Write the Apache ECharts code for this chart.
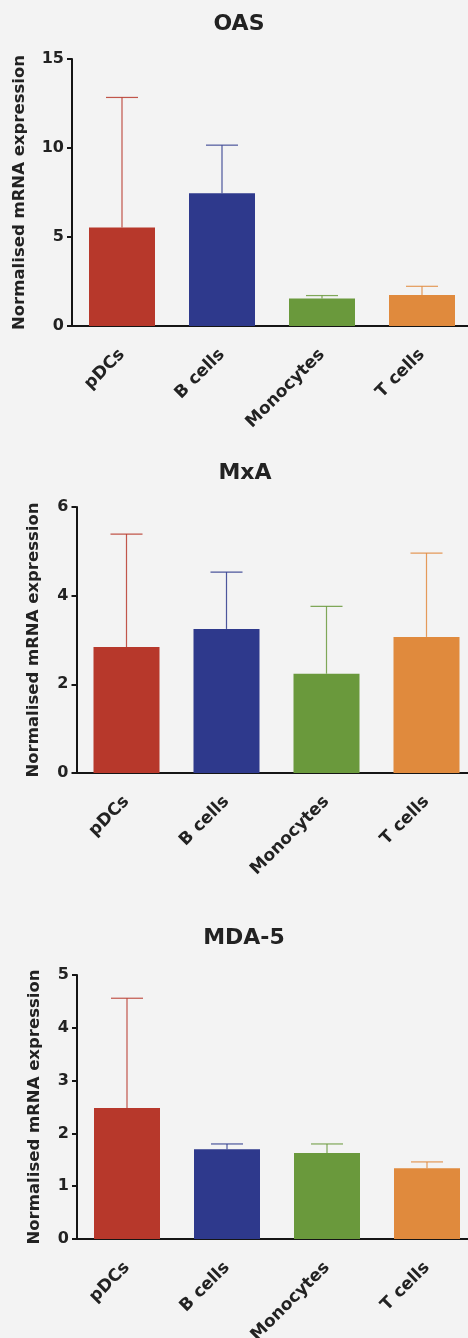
<!DOCTYPE html>
<html>
<head>
<meta charset="utf-8">
<script src="https://cdn.jsdelivr.net/npm/echarts@6/dist/echarts.min.js"></script>
<style>
html,body{margin:0;padding:0;background:#f3f3f3;}
#c{width:468px;height:1338px;}
</style>
</head>
<body>
<div id="c"></div>
<script>
const categories = ['pDCs', 'B cells', 'Monocytes', 'T cells'];
const barColors = ['#b7382b', '#2e398c', '#6a993c', '#e08a3d'];
const titles = ['OAS', 'MxA', 'MDA-5'];
const yAxisName = 'Normalised mRNA expression';

const oasMean = [5.53, 7.46, 1.54, 1.74];
const oasUpper = [12.84, 10.16, 1.71, 2.23];
const mxaMean = [2.84, 3.25, 2.24, 3.07];
const mxaUpper = [5.39, 4.53, 3.76, 4.96];
const mda5Mean = [2.48, 1.70, 1.63, 1.34];
const mda5Upper = [4.56, 1.80, 1.80, 1.46];

const yMax = [15, 6, 5];
const yInterval = [5, 2, 1];

const means = [oasMean, mxaMean, mda5Mean];
const uppers = [oasUpper, mxaUpper, mda5Upper];

const font = 'DejaVu Sans, Liberation Sans, Arial, sans-serif';
const grids = [
  {left: 72, top: 59, width: 400, height: 267},
  {left: 76.5, top: 507, width: 400, height: 266},
  {left: 77, top: 975, width: 400, height: 264}
];
const titlePos = [{x: 234, y: 19}, {x: 240, y: 468}, {x: 239, y: 933}];
const nameGaps = [44, 34, 34];

const option = {
  backgroundColor: '#f3f3f3',
  animation: false,
  title: titles.map((t, i) => ({
    text: t,
    left: titlePos[i].x,
    top: titlePos[i].y,
    textAlign: 'center',
    textVerticalAlign: 'middle',
    textStyle: {fontFamily: font, fontWeight: 'bold', fontSize: 22, color: '#222'}
  })),
  grid: grids.map(g => Object.assign({containLabel: false, outerBoundsMode: 'none'}, g)),
  xAxis: grids.map((g, i) => ({
    type: 'category',
    gridIndex: i,
    data: categories,
    axisLine: {lineStyle: {color: '#151515', width: 2}},
    axisTick: {alignWithLabel: true, length: 6, lineStyle: {color: '#151515', width: 2}},
    axisLabel: {rotate: 45, margin: 26, fontFamily: font, fontWeight: 'bold', fontSize: 17, color: '#222', interval: 0}
  })),
  yAxis: grids.map((g, i) => ({
    type: 'value',
    gridIndex: i,
    min: 0,
    max: yMax[i],
    interval: yInterval[i],
    name: yAxisName,
    nameLocation: 'middle',
    nameGap: nameGaps[i],
    nameRotate: 90,
    nameTextStyle: {fontFamily: font, fontWeight: 'bold', fontSize: 16.5, color: '#222'},
    splitLine: {show: false},
    axisLine: {show: true, lineStyle: {color: '#151515', width: 2}},
    axisTick: {show: true, length: 5, lineStyle: {color: '#151515', width: 2}},
    axisLabel: {margin: 8, fontFamily: font, fontWeight: 'bold', fontSize: 16, color: '#222'}
  })),
  series: []
};

for (let i = 0; i < 3; i++) {
  option.series.push({
    type: 'bar',
    xAxisIndex: i,
    yAxisIndex: i,
    barWidth: 66,
    data: means[i].map((v, k) => ({value: v, itemStyle: {color: barColors[k]}})),
    z: 2
  });
  option.series.push({
    type: 'custom',
    xAxisIndex: i,
    yAxisIndex: i,
    encode: {x: 0, y: [1, 2]},
    data: means[i].map((v, k) => [k, v, uppers[i][k]]),
    z: 1,
    renderItem: function (params, api) {
      const k = api.value(0);
      const base = api.coord([k, api.value(1)]);
      const top = api.coord([k, api.value(2)]);
      const half = 16;
      const col = barColors[k];
      return {
        type: 'group',
        children: [
          {type: 'line', shape: {x1: base[0], y1: base[1], x2: top[0], y2: top[1]}, style: {stroke: col, lineWidth: 1.2, opacity: 0.85}},
          {type: 'line', shape: {x1: top[0] - half, y1: top[1], x2: top[0] + half, y2: top[1]}, style: {stroke: col, lineWidth: 1.2, opacity: 0.85}}
        ]
      };
    }
  });
}

const chart = echarts.init(document.getElementById('c'));
chart.setOption(option);
</script>
</body>
</html>
